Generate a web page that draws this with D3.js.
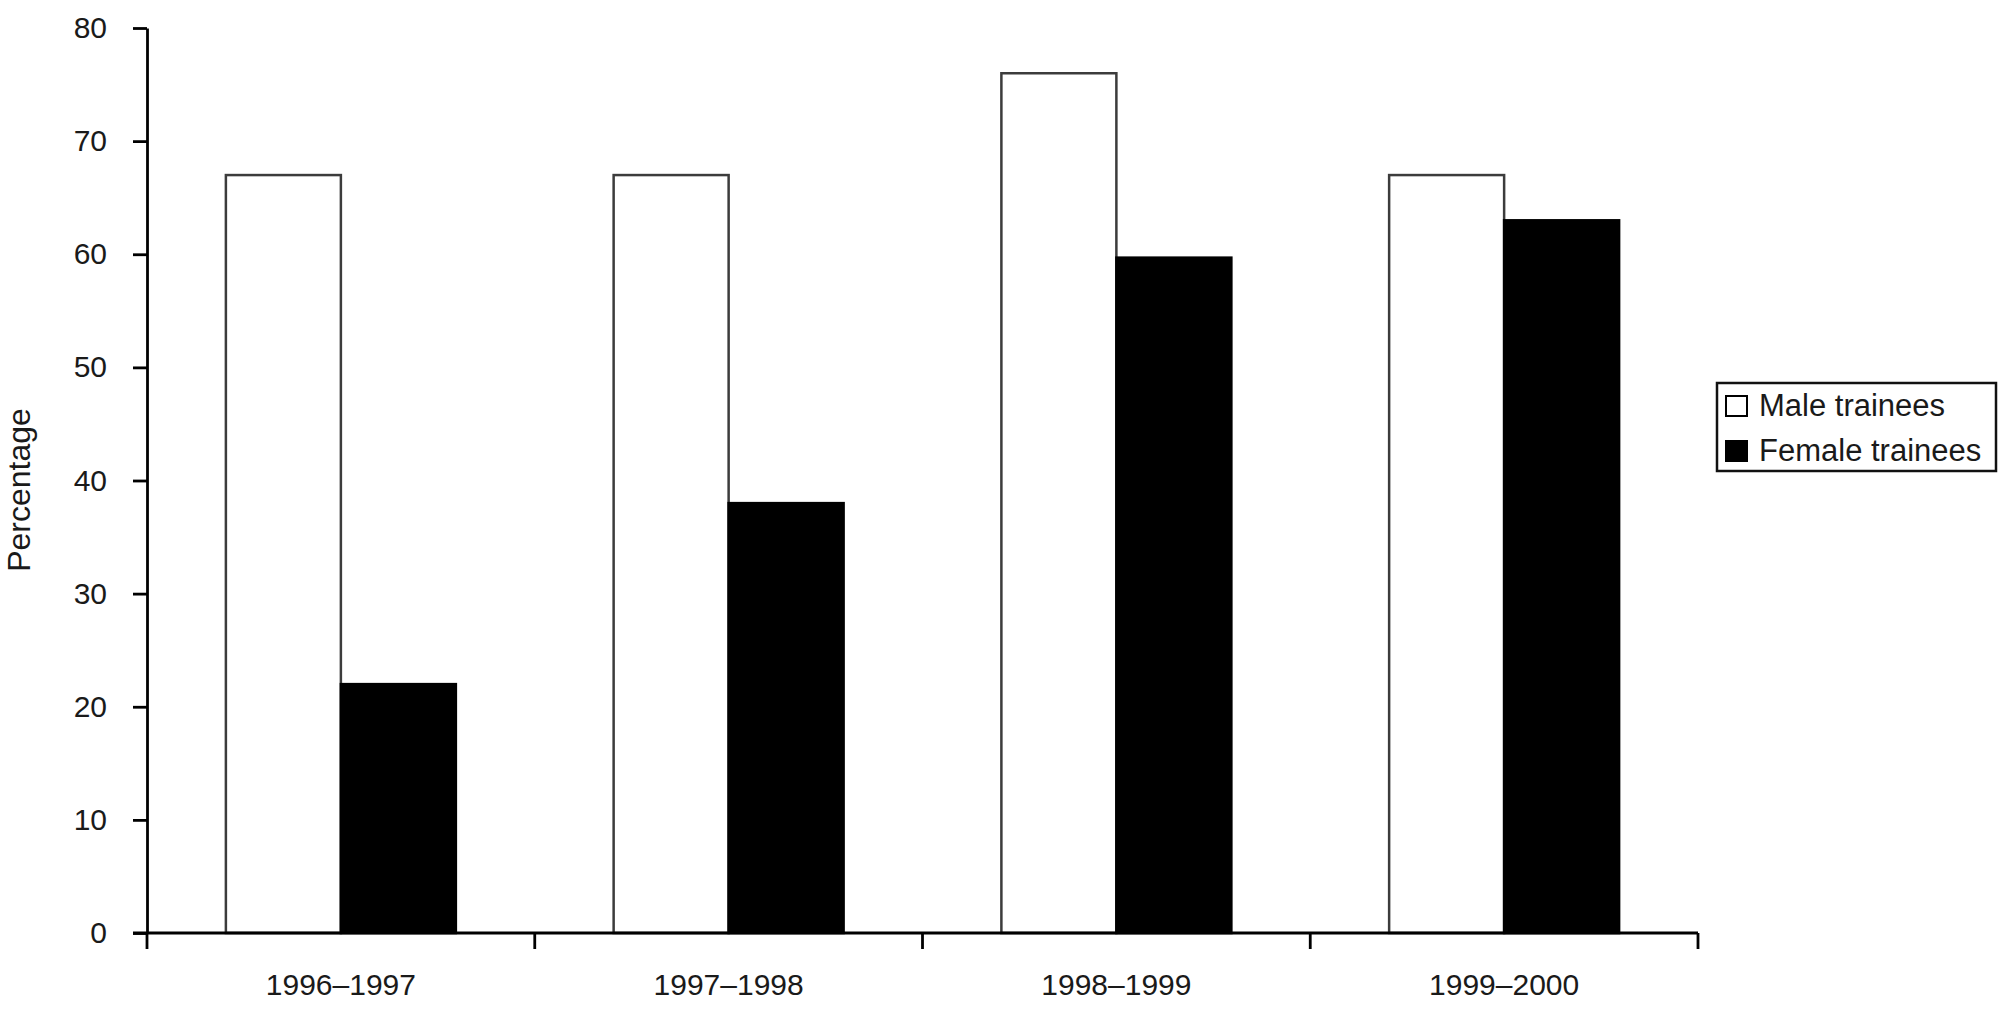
<!DOCTYPE html>
<html>
<head>
<meta charset="utf-8">
<script src="https://cdn.jsdelivr.net/npm/d3@7"></script>
<style>
  html, body { margin: 0; padding: 0; background: #fff; }
  svg { display: block; }
  text { font-family: "Liberation Sans", Arial, Helvetica, sans-serif; fill: #1a1a1a; }
</style>
</head>
<body>
<svg id="chart" width="2006" height="1021"></svg>
<script>
// ---- data ----
const categories = ["1996\u20131997", "1997\u20131998", "1998\u20131999", "1999\u20132000"];
const seriesNames = ["Male trainees", "Female trainees"];
const maleValues = [67, 67, 76, 67];
const femaleValues = [22, 38, 59.7, 63];
const yTicks = [0, 10, 20, 30, 40, 50, 60, 70, 80];
const yLabel = "Percentage";

// ---- layout ----
const svg = d3.select("#chart");
const plotLeft = 147, plotRight = 1698, plotTop = 28, plotBottom = 933;

const x0 = d3.scaleBand().domain(categories).range([plotLeft, plotRight]).paddingInner(0).paddingOuter(0);
const x1 = d3.scaleBand().domain(seriesNames).range([0, x0.bandwidth()]).paddingInner(0).paddingOuter(0.686);
const y = d3.scaleLinear().domain([0, 80]).range([plotBottom, plotTop]);

const fills = { "Male trainees": "#ffffff", "Female trainees": "#000000" };
const strokes = { "Male trainees": "#3c3c3c", "Female trainees": "#000000" };

const rows = categories.map((c, i) => ({ cat: c, values: [
  { name: seriesNames[0], value: maleValues[i] },
  { name: seriesNames[1], value: femaleValues[i] }
]}));

// bars
const g = svg.append("g");
g.selectAll("g.grp").data(rows).join("g")
  .attr("class", "grp")
  .attr("transform", d => `translate(${x0(d.cat)},0)`)
  .selectAll("rect").data(d => d.values).join("rect")
  .attr("x", d => x1(d.name))
  .attr("y", d => y(d.value))
  .attr("width", x1.bandwidth())
  .attr("height", d => y(0) - y(d.value))
  .attr("fill", d => fills[d.name])
  .attr("stroke", d => strokes[d.name])
  .attr("stroke-width", 2.5);

// y axis
const yAxis = d3.axisLeft(y).tickValues(yTicks).tickSize(14).tickSizeOuter(0).tickPadding(26);
const yg = svg.append("g").attr("transform", `translate(${plotLeft},0)`).call(yAxis);
yg.select(".domain").attr("stroke", "#000").attr("stroke-width", 2.8);
yg.selectAll(".tick line").attr("stroke", "#000").attr("stroke-width", 2.8);
yg.selectAll(".tick text").style("font-size", "30px").attr("fill", "#1a1a1a")
  .style("font-family", '"Liberation Sans", Arial, sans-serif');

// x axis (boundary ticks, centered labels)
const xg = svg.append("g");
xg.append("line")
  .attr("x1", plotLeft - 14).attr("x2", plotRight)
  .attr("y1", y(0)).attr("y2", y(0))
  .attr("stroke", "#000").attr("stroke-width", 2.8);
const boundaries = categories.map(c => x0(c)).concat([x0(categories[categories.length - 1]) + x0.bandwidth()]);
xg.selectAll("line.tk").data(boundaries).join("line")
  .attr("class", "tk")
  .attr("x1", d => d).attr("x2", d => d)
  .attr("y1", y(0)).attr("y2", y(0) + 16)
  .attr("stroke", "#000").attr("stroke-width", 2.8);
xg.selectAll("text").data(categories).join("text")
  .attr("x", d => x0(d) + x0.bandwidth() / 2)
  .attr("y", y(0) + 62)
  .attr("text-anchor", "middle")
  .style("font-size", "30px")
  .text(d => d);

// y label
svg.append("text")
  .attr("transform", `translate(30,490) rotate(-90)`)
  .attr("text-anchor", "middle")
  .style("font-size", "32px")
  .text(yLabel);

// legend
const lg = svg.append("g").attr("transform", "translate(1717,383)");
lg.append("rect").attr("x", 0).attr("y", 0).attr("width", 279).attr("height", 88)
  .attr("fill", "#fff").attr("stroke", "#111").attr("stroke-width", 2.5);
const items = lg.selectAll("g.item").data(seriesNames).join("g")
  .attr("class", "item")
  .attr("transform", (d, i) => `translate(9,${13 + i * 45})`);
items.append("rect").attr("width", 21).attr("height", 20)
  .attr("fill", d => fills[d]).attr("stroke", "#000").attr("stroke-width", 2);
items.append("text").attr("x", 33).attr("y", 20)
  .style("font-size", "31px")
  .text(d => d);
</script>
</body>
</html>
